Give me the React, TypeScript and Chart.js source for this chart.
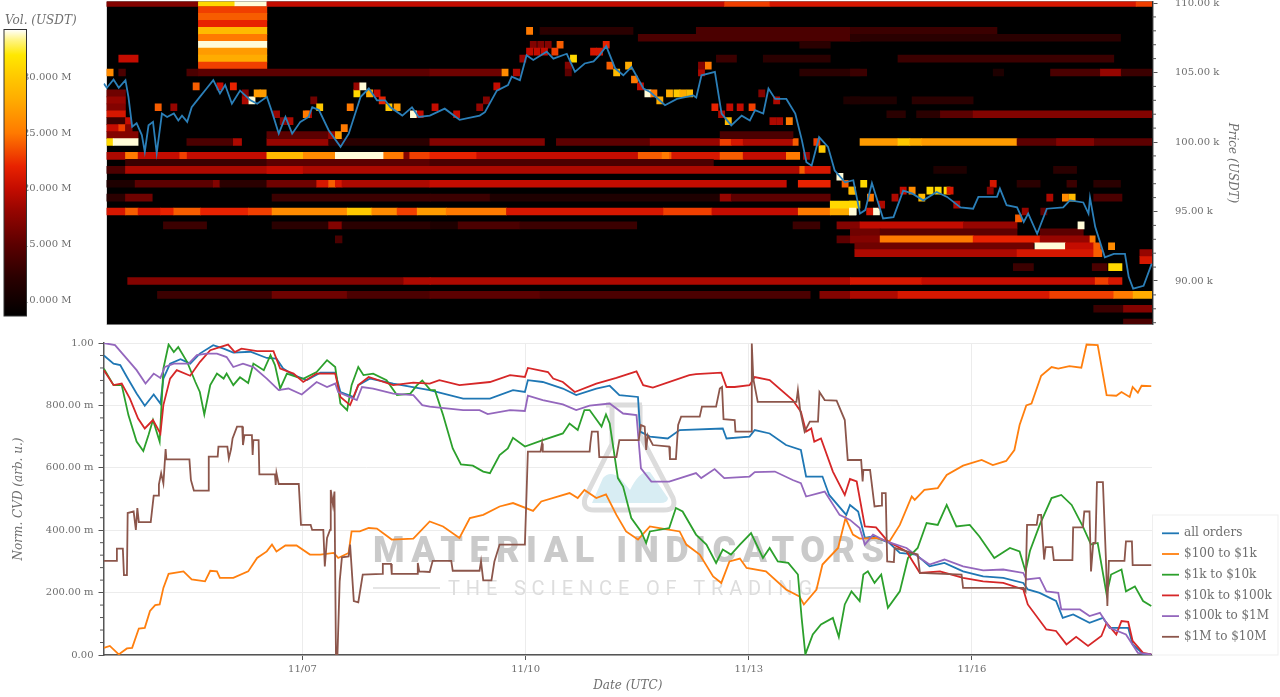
import React, { useEffect, useRef } from "react";
import { Chart, registerables } from "chart.js";

Chart.register(...registerables);

const FONT = "'DejaVu Serif', serif";
const TEXT = "#6e6e6e";
const AXIS = "#555555";

type P = [number, number];

const dayTicks = [7, 10, 13, 16];
const cvdTicks = [0, 0.2, 0.4, 0.6, 0.8, 1];
const priceTicks = [90, 95, 100, 105, 110];
const volTicks = [10, 15, 20, 25, 30];
const legendNames = ["all orders", "$100 to $1k", "$1k to $10k", "$10k to $100k", "$100k to $1M", "$1M to $10M"];
const seriesColors = ["#1f77b4", "#ff7f0e", "#2ca02c", "#d62728", "#9467bd", "#8c564b"];

const volStops: [number, string][] = [
  [8.56, "#000000"], [12, "#2a0000"], [15, "#5c0000"], [18, "#960500"], [20, "#c40c00"], [22, "#e82200"],
  [25, "#ff7a00"], [28, "#ffac00"], [30, "#ffc800"], [32, "#ffe800"], [33.4, "#fff58a"], [34.3, "#ffffff"],
];

const allOrders: P[] = [[4.33,.96],[4.46,.934],[4.55,.929],[4.64,.891],[4.77,.838],[4.88,.799],[5.0,.835],[5.09,.806],[5.13,.886],[5.22,.934],[5.36,.948],[5.49,.934],[5.62,.966],[5.8,.993],[5.94,.982],[6.07,.969],[6.3,.972],[6.52,.952],[6.65,.95],[6.74,.918],[6.88,.897],[7.06,.881],[7.24,.905],[7.44,.905],[7.51,.843],[7.69,.827],[7.75,.865],[7.91,.886],[8.22,.87],[8.71,.849],[9.16,.822],[9.52,.822],[9.83,.849],[9.99,.843],[10.03,.881],[10.23,.875],[10.5,.854],[10.68,.833],[10.95,.854],[11.13,.863],[11.26,.833],[11.51,.827],[11.54,.716],[11.67,.7],[11.91,.694],[12.07,.721],[12.65,.726],[12.7,.694],[13.01,.7],[13.08,.721],[13.28,.71],[13.5,.673],[13.7,.657],[13.77,.572],[13.99,.572],[14.08,.513],[14.31,.449],[14.36,.481],[14.47,.46],[14.56,.375],[14.67,.38],[14.89,.359],[15.03,.327],[15.25,.322],[15.43,.284],[15.63,.295],[15.88,.268],[16.15,.252],[16.42,.247],[16.69,.231],[16.75,.21],[16.91,.199],[17.13,.173],[17.22,.119],[17.36,.13],[17.58,.103],[17.76,.119],[17.85,.087],[18.1,.087],[18.16,.034],[18.3,.004],[18.41,.002]];

const orders100to1k: P[] = [[4.33,.023],[4.41,.029],[4.53,.002],[4.64,.021],[4.71,.023],[4.8,.085],[4.88,.087],[4.95,.141],[5.02,.16],[5.08,.162],[5.13,.215],[5.2,.26],[5.4,.268],[5.51,.242],[5.69,.236],[5.76,.27],[5.85,.268],[5.89,.247],[6.07,.247],[6.27,.268],[6.39,.311],[6.52,.332],[6.59,.354],[6.65,.332],[6.77,.351],[6.92,.351],[7.1,.322],[7.24,.322],[7.42,.327],[7.48,.311],[7.62,.327],[7.66,.396],[7.77,.396],[7.89,.407],[8.0,.405],[8.2,.37],[8.49,.373],[8.71,.428],[8.89,.412],[9.11,.375],[9.25,.439],[9.43,.449],[9.65,.476],[9.83,.487],[10.1,.462],[10.21,.492],[10.59,.519],[10.7,.503],[10.79,.529],[10.95,.503],[11.08,.515],[11.22,.449],[11.35,.396],[11.51,.37],[11.67,.412],[11.8,.407],[12.07,.396],[12.16,.354],[12.34,.322],[12.52,.252],[12.63,.231],[12.74,.3],[12.88,.309],[12.97,.279],[13.23,.268],[13.5,.21],[13.68,.188],[13.74,.162],[13.91,.21],[13.99,.29],[14.2,.343],[14.3,.439],[14.4,.386],[14.49,.373],[14.71,.375],[14.89,.364],[15.03,.417],[15.19,.508],[15.23,.497],[15.36,.529],[15.54,.535],[15.66,.577],[15.88,.607],[16.13,.625],[16.28,.609],[16.46,.622],[16.57,.657],[16.64,.737],[16.73,.8],[16.8,.806],[16.93,.895],[17.07,.923],[17.16,.918],[17.31,.926],[17.47,.921],[17.54,.995],[17.69,.993],[17.81,.833],[17.94,.831],[18.01,.843],[18.12,.827],[18.16,.859],[18.23,.841],[18.28,.863],[18.41,.862]];

const orders1kto10k: P[] = [[4.33,.918],[4.46,.865],[4.57,.865],[4.66,.769],[4.77,.684],[4.86,.654],[4.93,.705],[4.99,.753],[5.08,.684],[5.13,.918],[5.2,.995],[5.27,.971],[5.33,.987],[5.45,.939],[5.56,.875],[5.62,.843],[5.68,.771],[5.76,.865],[5.85,.902],[5.94,.886],[5.98,.902],[6.07,.865],[6.16,.89],[6.27,.872],[6.34,.934],[6.48,.913],[6.57,.961],[6.63,.929],[6.7,.854],[6.79,.902],[6.92,.891],[7.01,.885],[7.19,.907],[7.33,.945],[7.44,.923],[7.51,.806],[7.6,.785],[7.66,.865],[7.75,.923],[7.82,.897],[7.95,.902],[8.13,.881],[8.27,.833],[8.45,.838],[8.54,.865],[8.61,.88],[8.72,.849],[8.78,.849],[8.89,.769],[9.02,.662],[9.13,.611],[9.29,.607],[9.43,.588],[9.52,.583],[9.65,.641],[9.76,.662],[9.83,.696],[9.99,.668],[10.23,.689],[10.5,.71],[10.59,.742],[10.7,.721],[10.79,.785],[10.86,.785],[11.02,.732],[11.08,.771],[11.13,.742],[11.24,.567],[11.31,.54],[11.42,.439],[11.55,.396],[11.62,.359],[11.67,.396],[11.93,.407],[12.02,.471],[12.11,.46],[12.29,.386],[12.43,.354],[12.56,.295],[12.65,.338],[12.76,.322],[12.88,.354],[13.03,.391],[13.19,.311],[13.28,.343],[13.39,.3],[13.53,.295],[13.66,.258],[13.71,.119],[13.76,.002],[13.86,.066],[13.97,.098],[14.13,.119],[14.21,.058],[14.29,.162],[14.38,.204],[14.49,.173],[14.54,.258],[14.6,.268],[14.69,.231],[14.78,.258],[14.87,.151],[15.03,.204],[15.14,.311],[15.27,.343],[15.39,.423],[15.54,.417],[15.66,.481],[15.79,.412],[15.97,.417],[16.1,.38],[16.3,.311],[16.51,.343],[16.64,.332],[16.72,.268],[16.78,.334],[16.91,.417],[17.07,.503],[17.2,.513],[17.34,.481],[17.49,.412],[17.6,.354],[17.69,.359],[17.81,.194],[17.87,.258],[18.01,.274],[18.07,.204],[18.19,.22],[18.3,.173],[18.41,.157]];

const orders10kto100k: P[] = [[4.33,.913],[4.46,.865],[4.57,.87],[4.68,.822],[4.79,.758],[4.88,.726],[4.99,.753],[5.09,.71],[5.13,.801],[5.22,.886],[5.31,.913],[5.49,.895],[5.62,.939],[5.76,.977],[5.89,.987],[6.0,.995],[6.09,.971],[6.18,.982],[6.39,.974],[6.61,.974],[6.7,.918],[6.88,.902],[7.01,.875],[7.19,.902],[7.44,.902],[7.51,.827],[7.64,.801],[7.75,.865],[7.89,.891],[8.22,.865],[8.49,.873],[8.71,.87],[8.84,.881],[9.11,.865],[9.52,.875],[9.79,.897],[9.99,.891],[10.03,.92],[10.3,.907],[10.37,.886],[10.5,.875],[10.66,.843],[10.95,.87],[11.22,.888],[11.49,.909],[11.58,.865],[11.71,.857],[12.2,.897],[12.29,.9],[12.63,.905],[12.7,.859],[12.81,.859],[13.01,.865],[13.08,.891],[13.28,.881],[13.59,.817],[13.7,.78],[13.77,.716],[13.84,.726],[13.88,.684],[13.97,.694],[14.13,.588],[14.29,.513],[14.36,.564],[14.45,.556],[14.56,.412],[14.71,.409],[14.87,.364],[15.12,.332],[15.3,.263],[15.57,.268],[15.88,.247],[16.15,.236],[16.42,.231],[16.69,.21],[16.75,.162],[17.0,.082],[17.13,.077],[17.27,.034],[17.4,.058],[17.56,.029],[17.74,.061],[17.81,.103],[17.94,.066],[18.01,.109],[18.1,.106],[18.16,.045],[18.3,.007],[18.41,.002]];

const orders100kto1M: P[] = [[4.33,1.0],[4.48,.993],[4.62,.955],[4.77,.913],[4.89,.87],[5.0,.902],[5.09,.888],[5.15,.923],[5.27,.934],[5.47,.934],[5.58,.961],[5.71,.966],[5.85,.966],[5.98,.955],[6.07,.923],[6.2,.934],[6.34,.923],[6.52,.886],[6.68,.849],[6.81,.854],[6.99,.835],[7.19,.875],[7.33,.859],[7.44,.87],[7.48,.843],[7.73,.817],[7.8,.859],[7.95,.854],[8.22,.838],[8.49,.833],[8.61,.801],[8.71,.796],[9.16,.785],[9.38,.785],[9.49,.772],[9.79,.785],[9.99,.782],[10.03,.831],[10.23,.817],[10.5,.803],[10.68,.785],[10.86,.799],[11.13,.806],[11.31,.774],[11.49,.769],[11.55,.598],[11.69,.556],[11.93,.556],[12.29,.583],[12.36,.567],[12.54,.596],[12.67,.567],[13.01,.572],[13.08,.586],[13.35,.588],[13.59,.561],[13.7,.551],[13.77,.508],[14.02,.524],[14.22,.449],[14.36,.433],[14.49,.407],[14.56,.354],[14.67,.386],[14.85,.364],[15.12,.343],[15.3,.311],[15.43,.29],[15.63,.306],[15.88,.284],[16.15,.271],[16.42,.274],[16.69,.263],[16.73,.242],[16.91,.247],[17.0,.204],[17.16,.199],[17.2,.146],[17.45,.146],[17.58,.125],[17.72,.135],[17.85,.087],[18.07,.066],[18.23,.007],[18.41,.002]];

const orders1Mto10M: P[] = [[4.33,.302],[4.5,.302],[4.505,.341],[4.585,.341],[4.6,.256],[4.64,.256],[4.65,.455],[4.73,.46],[4.76,.401],[4.78,.471],[4.8,.426],[4.96,.426],[5.0,.511],[5.06,.511],[5.07,.547],[5.1,.583],[5.13,.55],[5.14,.585],[5.16,.66],[5.17,.627],[5.48,.627],[5.5,.561],[5.54,.527],[5.73,.527],[5.74,.636],[5.86,.636],[5.87,.668],[5.99,.668],[6.01,.63],[6.04,.66],[6.06,.694],[6.12,.732],[6.19,.732],[6.2,.673],[6.22,.705],[6.32,.705],[6.33,.641],[6.34,.689],[6.41,.689],[6.42,.579],[6.63,.579],[6.64,.545],[6.65,.583],[6.68,.548],[6.95,.548],[6.98,.417],[7.11,.417],[7.13,.401],[7.28,.401],[7.3,.284],[7.33,.375],[7.37,.401],[7.38,.529],[7.41,.481],[7.43,.524],[7.45,0],[7.47,0],[7.5,.236],[7.53,.313],[7.62,.316],[7.64,.354],[7.69,.173],[7.75,.169],[7.81,.258],[8.07,.26],[8.08,.292],[8.19,.292],[8.2,.26],[8.54,.26],[8.55,.295],[8.57,.268],[8.71,.266],[8.75,.302],[9.0,.302],[9.02,.27],[9.38,.27],[9.4,.3],[9.43,.239],[9.54,.239],[9.58,.3],[9.65,.354],[9.99,.354],[10.03,.652],[10.2,.652],[10.22,.678],[10.23,.652],[10.86,.652],[10.87,.678],[10.89,.716],[10.97,.716],[10.99,.634],[11.22,.634],[11.26,.689],[11.52,.689],[11.55,.737],[11.6,.732],[11.62,.657],[11.64,.705],[11.71,.673],[11.93,.668],[11.94,.628],[12.02,.628],[12.05,.737],[12.09,.764],[12.34,.764],[12.37,.796],[12.56,.796],[12.61,.854],[12.64,.859],[12.66,.756],[12.81,.753],[12.82,.716],[13.03,.716],[13.04,.998],[13.06,.886],[13.12,.811],[13.64,.811],[13.66,.849],[13.69,.785],[13.75,.716],[13.82,.748],[13.93,.748],[13.95,.843],[14.02,.817],[14.18,.815],[14.29,.753],[14.33,.625],[14.51,.625],[14.53,.556],[14.54,.593],[14.63,.593],[14.66,.535],[14.69,.476],[14.78,.479],[14.79,.519],[14.84,.519],[14.86,.3],[14.95,.298],[14.96,.343],[15.27,.322],[15.3,.263],[15.86,.258],[15.88,.215],[16.69,.215],[16.72,.204],[16.74,.417],[16.87,.417],[16.89,.449],[16.93,.449],[16.97,.306],[16.99,.346],[17.08,.346],[17.1,.304],[17.35,.304],[17.36,.409],[17.49,.409],[17.51,.46],[17.58,.46],[17.6,.268],[17.63,.359],[17.66,.359],[17.68,.554],[17.76,.554],[17.8,.311],[17.82,.157],[17.84,.302],[18.05,.302],[18.07,.364],[18.15,.364],[18.16,.288],[18.41,.288]];

const priceSeries: P[] = [[4.33,104.2],[4.37,103.9],[4.46,104.5],[4.53,103.9],[4.62,104.45],[4.66,103.25],[4.71,101.1],[4.77,101.35],[4.84,100.5],[4.88,99.3],[4.93,101.2],[4.99,101.45],[5.04,99.2],[5.11,102.05],[5.18,101.8],[5.27,102.05],[5.33,101.55],[5.38,101.9],[5.45,101.45],[5.51,102.5],[5.62,103.25],[5.71,103.85],[5.8,104.45],[5.89,103.5],[5.96,104.1],[6.05,102.75],[6.16,103.7],[6.3,103],[6.39,102.75],[6.52,103.25],[6.59,102.15],[6.68,100.6],[6.77,101.8],[6.86,100.6],[6.97,101.45],[7.08,101.8],[7.13,102.5],[7.22,102.3],[7.35,100.85],[7.51,99.65],[7.62,100.6],[7.78,103.25],[7.89,103.85],[8.0,103],[8.11,103],[8.18,102.5],[8.34,101.9],[8.47,102.5],[8.56,101.8],[8.71,101.9],[8.91,102.4],[9.11,101.6],[9.38,101.9],[9.45,102.15],[9.61,103.7],[9.76,104.1],[9.81,104.7],[9.92,104.45],[10.01,106.25],[10.1,105.9],[10.28,106.5],[10.37,106],[10.55,106.35],[10.66,105.05],[10.79,105.65],[10.91,105.8],[10.99,106.25],[11.08,106.9],[11.2,105.3],[11.31,104.8],[11.42,105.4],[11.58,103.85],[11.67,103.6],[11.87,102.65],[12.03,103.1],[12.25,103.35],[12.29,103.2],[12.36,104.8],[12.54,105.05],[12.63,102.05],[12.76,101.2],[12.9,101.9],[13.01,101.55],[13.08,102.3],[13.19,102.05],[13.26,103.85],[13.35,103.1],[13.5,103.1],[13.62,102.05],[13.71,100.1],[13.77,98.55],[13.84,98.3],[13.94,100.35],[14.06,99.65],[14.15,97.95],[14.29,97.1],[14.4,97.25],[14.49,94.85],[14.56,95.1],[14.65,97.05],[14.8,94.5],[14.94,94.6],[15.07,96.5],[15.19,96.3],[15.34,95.8],[15.52,96.4],[15.66,96.05],[15.84,95.3],[16.01,95.2],[16.08,96.05],[16.33,96.05],[16.37,96.65],[16.46,95.45],[16.6,95.3],[16.69,94.25],[16.75,94.85],[16.87,93.4],[17,95.2],[17.22,95.3],[17.31,95.8],[17.49,95.65],[17.56,94.85],[17.58,96],[17.65,93.9],[17.78,91.7],[17.9,91.95],[18.05,91.95],[18.1,90.3],[18.16,89.45],[18.3,89.65],[18.41,91.25]];

// [price k, start day, end day, volume M]
const heatBands: [number, number, number, number][] = [
  [110,4.37,5.6,17],[110,5.6,6.09,31],[110,6.09,6.52,34],[110,6.52,12.67,20],[110,12.67,13.28,23],[110,13.28,18.2,21],[110,18.2,18.41,23],
  [109.5,5.6,6.52,23],[109,5.6,6.52,24],[108.5,5.6,6.52,22],[108,5.6,6.52,29],[107.5,5.6,6.52,25],[107,5.6,6.52,34],[106.5,5.6,6.52,27],[106,5.6,6.52,28],[105.5,5.6,6.52,23],
  [106,4.53,4.79,20],[106,12.56,12.83,13],[106,13.19,14.09,12],[106,15,17.9,13],
  [105,4.37,4.455,26],[105,4.53,4.62,14],[105,5.445,5.6,14],[105,5.6,8.71,15],[105,8.71,9.67,16],[105,9.83,9.92,19],[105,13.68,14.49,12],[105,14.36,14.58,13],[105,16.28,16.42,11],[105,17.05,17.72,14],[105,17.72,18,18],[105,18,18.41,13],
  [108,10.19,11.44,12],[108,12.29,14.49,14],[108,14.36,16.33,13],[107.5,11.51,14.49,14],[107.5,14.36,17.99,12],[107,13.68,14.09,12],
  [103,14.36,14.98,11],[103,15.19,16.01,12],[103,14.27,14.49,11],
  [102,14.85,15.1,12],[102,15.25,15.57,12],[102,15.57,16.01,15],[102,16.01,18.41,17],
  [103.5,4.37,4.62,16],[103,4.37,4.62,18],[102.5,4.37,4.62,17],[102,4.37,4.62,21],[101.5,4.37,4.62,13],[101.5,4.62,4.69,20],[101,4.37,4.53,20],[101,4.53,4.62,23],[101,4.62,4.71,17],[100.5,4.37,4.79,17],
  [100,4.37,4.455,31],[100,4.455,4.79,34],[100,5.445,6.07,14],[100,6.07,6.18,19],[100,6.52,7.35,18],[100,7.35,8.71,12],[100,8.71,10.25,17],[100,10.41,11.67,15],[100,11.67,12.61,18],[100,12.61,12.76,23],[100,12.76,12.92,21],[100,12.92,13.59,19],[100,13.59,13.66,24],
  [100,14.49,15,27],[100,15,15.16,30],[100,15.16,15.32,28],[100,15.32,16.6,27],[100,16.6,18.41,15],[100,17.13,17.63,17],
  [100.5,6.52,7.35,15],[100.5,12.61,13.59,14],
  [99,4.37,4.62,19],[99,4.62,4.79,25],[99,4.79,6.52,20],[99,5.35,5.44,23],[99,6.52,7.01,29],[99,7.01,7.44,26],[99,7.44,8.09,34],[99,8.09,8.36,25],[99,8.36,8.44,17],[99,8.44,8.71,23],[99,8.71,9.34,22],[99,9.34,11.51,20],[99,11.51,11.96,24],[99,11.83,11.92,25],[99,11.96,12.61,21],[99,12.61,12.92,24],[99,12.92,13.5,20],[99,13.5,13.68,25],
  [98.5,4.62,6.52,13],[98.5,6.52,8.71,15],[98.5,8.71,12.52,14],
  [98,4.37,4.62,14],[98,4.62,13.68,19],[98,6.52,7,20],[98,13.68,13.75,24],[98,13.75,14.09,21],[98,15.48,15.92,11],[98,17.09,17.4,12],
  [97,4.37,4.75,11],[97,4.75,5.8,15],[97,5.8,5.89,17],[97,5.89,6.52,12],[97,6.52,7.19,16],[97,7.19,7.35,21],[97,7.35,7.44,24],[97,7.44,7.53,21],[97,7.53,8.71,19],[97,8.71,13.5,20],[97,13.66,14.09,22],[97,16.6,16.91,12],[97,17.27,17.4,13],[97,17.63,17.99,12],
  [96,4.37,4.62,12],[96,4.62,4.98,16],[96,6.59,8.72,13],[96,8.71,9.52,13],[96,9.52,12.61,11],[96,12.61,12.76,18],[96,12.76,14.09,15],[96,17.63,18.01,14],
  [95,4.37,4.62,21],[95,4.62,4.79,24],[95,4.79,5.09,21],[95,5.09,5.27,22],[95,5.27,5.63,24],[95,5.63,6.27,22],[95,6.27,6.59,23],[95,6.59,7.6,26],[95,7.6,7.93,30],[95,7.93,8.27,26],[95,8.27,8.54,23],[95,8.54,8.93,27],[95,8.93,9.74,25],[95,9.74,11.85,21],[95,11.85,12.5,23],[95,12.5,13.66,20],[95,13.66,14.09,25],[95,14.09,14.35,28],[95,14.35,14.44,34],
  [95.5,14.09,14.49,31],
  [94,5.13,5.71,13],[94,6.59,7.35,12],[94,7.35,7.53,17],[94,7.53,8.72,12],[94,8.72,9.09,11],[94,9.09,9.92,14],[94,9.92,11.49,13],[94,13.59,13.95,13],[94,14.18,14.49,17],[94,14.49,15.88,20],[94,15.88,16.6,18],
  [93.5,14.36,14.76,16],[93.5,14.76,16.6,15],[93.5,16.91,17.49,15],
  [93,7.44,7.53,14],[93,14.18,14.49,15],[93,14.36,14.76,17],[93,14.76,16.01,25],[93,16.01,16.91,22],[93,16.91,17.58,18],[93,17.58,17.65,25],
  [92.5,14.42,16.82,16],[92.5,16.84,17.25,34],[92.5,17.25,17.63,20],[92.5,17.63,17.72,24],
  [92,14.42,16.6,19],[92,16.6,17.63,21],[92,17.63,17.74,24],[92,18.25,18.41,18],[91.5,18.25,18.41,21],
  [91,16.55,16.82,13],[91,17.61,17.81,14],[91,17.83,18.01,31],
  [90,4.65,8.36,17],[90,8.36,8.72,19],[90,8.71,14.36,19],[90,14.36,15.32,21],[90,15.32,17.65,20],[90,17.65,17.83,23],[90,17.83,18.01,21],
  [89,5.05,6.59,13],[89,6.59,7.6,16],[89,7.6,8.72,14],[89,8.71,10.19,15],[89,10.19,13.82,14],[89,13.95,14.36,17],[89,14.36,15,19],[89,15,17.04,21],[89,17.04,17.9,23],[89,17.9,18.16,25],[89,18.16,18.41,28],
  [88,17.63,18.03,13],[88,18.03,18.41,17],[87,18.03,18.41,14],
];

// [price k, centre day, volume M]
const heatCells: [number, number, number][] = [
  [102.5,5.06,24],[102.5,5.27,18],[104,5.57,24],[104,5.89,20],[104,6.07,22],[103.5,6.23,17],[103,6.23,19],[103,6.32,34],[103.5,6.39,27],[103.5,6.47,27],[102,7.08,19],[103,7.15,16],[102.5,7.23,30],[102,7.05,25],[102.5,7.64,25],[103.5,7.73,31],[104,7.73,18],[104,7.81,34],[103.5,7.9,28],[103.5,8,20],[103,8.07,22],[102.5,8.16,30],[102.5,8.27,27],[102,8.49,34],[100.5,7.48,27],[101,7.56,25],[100.5,7.39,18],[101.5,6.83,19],[101.5,6.74,17],[102,6.65,18],[102,8.58,20],
  [108,10.05,25],[107,10.1,17],[107,10.2,17],[107,10.3,17],[107,10.46,24],[106.5,10.05,20],[106.5,10.15,20],[106.5,10.25,20],[106.5,10.39,23],[107,11.08,22],[106.5,10.99,21],[106.5,10.91,21],[106,10.64,31],[105.5,10.57,17],[105,10.57,15],[106,9.96,18],[105,9.72,26],[104,9.61,20],[105.5,11.13,24],[105,11.22,29],[105.5,11.38,28],[104.5,11.46,25],[104,11.54,20],[103.5,11.64,34],[103.5,11.72,25],[103,11.8,28],[103.5,11.93,28],[103.5,12.03,30],[103.5,12.11,28],[103.5,12.2,29],[105.5,12.45,25],[105,12.36,19],[105.5,12.36,17],[102.5,12.54,22],[102.5,12.74,20],[102.5,12.88,20],[102.5,13.04,23],[102,12.63,19],[101.5,12.72,29],[101.5,13.32,19],[101.5,13.41,19],[101.5,13.54,25],[103.5,13.17,17],[103,13.37,19],[99.5,13.98,30],[100,13.91,23],[99,13.77,18],[97.5,14.22,34],[97,14.29,24],[96.5,14.38,29],[102.5,9.38,18],[102.5,8.78,20],[102,9.07,20],[103,9.47,17],
  [97,14.54,31],[96.5,14.39,29],[95.5,14.39,31],[95,14.39,34],[96,14.63,25],[95,14.71,34],[95,14.62,21],[95.5,14.78,19],[96,14.96,19],[96.5,15.07,20],[96.5,15.19,26],[96,15.32,29],[96.5,15.43,31],[96.5,15.54,31],[96.5,15.66,31],[96.5,15.7,21],[95.5,15.79,19],[97,16.28,21],[96.5,16.24,17],[94.5,16.62,24],[95,16.71,18],[96,17.04,19],[96,17.25,26],[96,17.34,29],[94,17.46,34],[92.5,17.87,26],[95,16.96,15],
];

const heatCellHalfWidth = 0.0417;
const heatStart = 4.37;

function hexRgb(c: string) {
  return [parseInt(c.slice(1, 3), 16), parseInt(c.slice(3, 5), 16), parseInt(c.slice(5, 7), 16)];
}
function volumeColor(v: number) {
  for (let i = 1; i < volStops.length; i++) {
    if (v <= volStops[i][0]) {
      const [a, ca] = volStops[i - 1];
      const [b, cb] = volStops[i];
      const t = Math.max(0, (v - a) / (b - a));
      const p = hexRgb(ca);
      const q = hexRgb(cb);
      return `rgb(${p.map((x, k) => Math.round(x + (q[k] - x) * t)).join(",")})`;
    }
  }
  return "#ffffff";
}

const toXY = (s: P[]) => s.map(([x, y]) => ({ x, y }));

function useChart(build: (c: HTMLCanvasElement) => Chart) {
  const ref = useRef<HTMLCanvasElement | null>(null);
  useEffect(() => {
    const chart = build(ref.current as HTMLCanvasElement);
    return () => chart.destroy();
  }, []);
  return ref;
}

function minorTicks(ctx: any, x0: number, x1: number, ys: number[]) {
  ctx.save();
  ctx.strokeStyle = AXIS;
  ctx.lineWidth = 1;
  ys.forEach((y) => {
    ctx.beginPath();
    ctx.moveTo(x0, y);
    ctx.lineTo(x1, y);
    ctx.stroke();
  });
  ctx.restore();
}

function buildHeat(canvas: HTMLCanvasElement) {
  const bars = [
    ...heatBands.map(([p, a, b, v]) => ({ x: [a, b], y: p, v })),
    ...heatCells.map(([p, c, v]) => ({ x: [c - heatCellHalfWidth, c + heatCellHalfWidth], y: p, v })),
  ];
  return new Chart(canvas, {
    type: "line",
    data: {
      datasets: [
        {
          type: "line", label: "Price", data: toXY(priceSeries), borderColor: "#2b7fb8", borderWidth: 1.8,
          pointRadius: 0, tension: 0, order: 1, parsing: false, normalized: true,
        },
        {
          type: "bar", label: "Vol.", indexAxis: "y", data: bars, backgroundColor: bars.map((b) => volumeColor(b.v)),
          barThickness: 7, grouped: false, order: 2, borderWidth: 0,
        },
      ] as any,
    },
    options: {
      responsive: false, animation: false, events: [],
      layout: { padding: { left: 103.5, top: 1.5, bottom: 5.5, right: 0 } },
      plugins: { legend: { display: false }, tooltip: { enabled: false } },
      scales: {
        x: { type: "linear", min: 4.325, max: 18.42, display: false, offset: false },
        y: {
          type: "linear", position: "right", min: 86.87, max: 110.11, offset: false,
          afterFit: (s: any) => { s.width = 127.5; s.paddingTop = 0; s.paddingBottom = 0; },
          afterBuildTicks: (s: any) => { s.ticks = priceTicks.map((value) => ({ value })); },
          grid: { drawOnChartArea: false, offset: false, tickLength: 5, tickColor: AXIS },
          border: { color: AXIS, width: 1.5 },
          ticks: {
            autoSkip: false, padding: 17.5, color: TEXT, font: { family: FONT, size: 10 },
            callback: (v: any) => `${Number(v).toFixed(2)} k`,
          },
          title: {
            display: true, text: "Price (USDT)", color: TEXT,
            font: { family: FONT, size: 12, style: "italic" }, padding: { top: 41, bottom: 0 },
          },
        },
      },
    },
    plugins: [
      {
        id: "heatFloor",
        beforeDatasetsDraw(chart: any) {
          const { ctx, chartArea: a, scales } = chart;
          ctx.save();
          ctx.fillStyle = "#000";
          const x0 = scales.x.getPixelForValue(heatStart);
          ctx.fillRect(x0, a.top, a.right - x0, a.bottom - a.top);
          ctx.restore();
        },
        afterDraw(chart: any) {
          const { ctx, chartArea: a, scales } = chart;
          ctx.save();
          ctx.strokeStyle = "#777";
          ctx.lineWidth = 1;
          ctx.beginPath();
          ctx.moveTo(scales.x.getPixelForValue(heatStart), a.bottom);
          ctx.lineTo(a.right, a.bottom);
          ctx.stroke();
          ctx.restore();
          const ys: number[] = [];
          for (let p = 87; p < 110; p++) if (p % 5) ys.push(scales.y.getPixelForValue(p));
          minorTicks(ctx, a.right, a.right + 3.5, ys);
        },
      },
    ] as any,
  } as any);
}

function buildColorbar(canvas: HTMLCanvasElement) {
  return new Chart(canvas, {
    type: "bar",
    data: {
      labels: ["Vol."],
      datasets: [
        {
          data: [[8.56, 34.29]],
          barPercentage: 1, categoryPercentage: 1, borderWidth: 0,
          backgroundColor: (c: any) => {
            const a = c.chart.chartArea;
            if (!a) return "#000";
            const scale = c.chart.scales.y;
            const g = c.chart.ctx.createLinearGradient(0, scale.getPixelForValue(8.56), 0, scale.getPixelForValue(34.29));
            volStops.forEach(([v, col]) => g.addColorStop(Math.min(1, (v - 8.56) / (34.29 - 8.56)), col));
            return g;
          },
        },
      ] as any,
    },
    options: {
      responsive: false, animation: false, events: [],
      layout: { padding: { left: 4, right: 76.5, top: 29.5, bottom: 14 } },
      plugins: { legend: { display: false }, tooltip: { enabled: false } },
      scales: {
        x: { display: false },
        y: {
          type: "linear", min: 8.56, max: 34.29, position: "left", z: 2,
          afterFit: (s: any) => { s.width = 0; s.paddingTop = 0; s.paddingBottom = 0; },
          afterBuildTicks: (s: any) => { s.ticks = volTicks.map((value) => ({ value })); },
          grid: { display: false, drawTicks: false },
          border: { display: false },
          ticks: {
            mirror: true, padding: 19, color: TEXT, font: { family: FONT, size: 10 }, autoSkip: false,
            callback: (v: any) => `${Number(v).toFixed(3)} M`,
          },
        },
      },
    },
    plugins: [
      {
        id: "colorbarFrame",
        afterDraw(chart: any) {
          const { ctx, chartArea: a } = chart;
          ctx.save();
          ctx.strokeStyle = "#333";
          ctx.lineWidth = 1;
          ctx.strokeRect(a.left, a.top, a.right - a.left, a.bottom - a.top);
          ctx.fillStyle = TEXT;
          ctx.font = `italic 12px ${FONT}`;
          ctx.textBaseline = "middle";
          ctx.fillText("Vol. (USDT)", 5, 20.5);
          ctx.restore();
        },
      },
    ] as any,
  } as any);
}

function spacedText(ctx: any, text: string, left: number, right: number, y: number) {
  ctx.letterSpacing = "0px";
  const w = ctx.measureText(text).width;
  ctx.letterSpacing = `${(right - left - w) / (text.length - 1)}px`;
  ctx.fillText(text, left, y);
  ctx.letterSpacing = "0px";
}

function drawWatermark(ctx: any, top: number) {
  const oy = -top;
  ctx.save();
  ctx.translate(0, oy);
  // flask logo
  ctx.fillStyle = "#d8edf3";
  ctx.beginPath();
  ctx.moveTo(592, 503);
  ctx.lineTo(603, 478);
  ctx.quadraticCurveTo(610, 470, 620, 478);
  ctx.lineTo(630, 490);
  ctx.quadraticCurveTo(640, 470, 650, 472);
  ctx.lineTo(668, 498);
  ctx.quadraticCurveTo(668, 503, 660, 503);
  ctx.closePath();
  ctx.fill();
  ctx.strokeStyle = "#dcdcdc";
  ctx.lineWidth = 5;
  ctx.lineJoin = "round";
  ctx.beginPath();
  ctx.moveTo(612, 405);
  ctx.lineTo(612, 444);
  ctx.lineTo(585, 498);
  ctx.quadraticCurveTo(582, 510, 594, 510);
  ctx.lineTo(664, 510);
  ctx.quadraticCurveTo(677, 510, 673, 498);
  ctx.lineTo(640, 435);
  ctx.lineTo(640, 405);
  ctx.stroke();
  ctx.beginPath();
  ctx.moveTo(606, 405);
  ctx.lineTo(642, 405);
  ctx.stroke();
  // wordmark
  ctx.textBaseline = "alphabetic";
  ctx.fillStyle = "#cacaca";
  ctx.font = "900 36px Roboto, sans-serif";
  spacedText(ctx, "MATERIAL INDICATORS", 373, 884, 562);
  ctx.fillStyle = "#dddddd";
  ctx.font = "20px Roboto, sans-serif";
  spacedText(ctx, "THE SCIENCE OF TRADING", 448, 812, 595);
  ctx.strokeStyle = "#dddddd";
  ctx.lineWidth = 1.5;
  ctx.beginPath();
  ctx.moveTo(373, 588);
  ctx.lineTo(440, 588);
  ctx.moveTo(815, 588);
  ctx.lineTo(880, 588);
  ctx.stroke();
  ctx.restore();
}

const CVD_TOP = 330;

function buildCvd(canvas: HTMLCanvasElement) {
  const lines = [allOrders, orders100to1k, orders1kto10k, orders10kto100k, orders100kto1M, orders1Mto10M];
  return new Chart(canvas, {
    type: "line",
    data: {
      datasets: lines.map((s, i) => ({
        label: legendNames[i], data: toXY(s), borderColor: seriesColors[i], borderWidth: 1.8,
        pointRadius: 0, tension: 0, order: lines.length - i, parsing: false, normalized: true,
      })),
    },
    options: {
      responsive: false, animation: false, events: [],
      layout: { padding: { left: 0, right: 128, top: 13, bottom: 0 } },
      plugins: { legend: { display: false }, tooltip: { enabled: false } },
      scales: {
        x: {
          type: "linear", min: 4.325, max: 18.42,
          afterFit: (s: any) => { s.height = 42; s.paddingLeft = 0; s.paddingRight = 0; },
          afterBuildTicks: (s: any) => { s.ticks = dayTicks.map((value) => ({ value })); },
          grid: { color: "#ececec", tickColor: AXIS, tickLength: 5 },
          border: { color: AXIS, width: 1.5 },
          ticks: {
            autoSkip: false, maxRotation: 0, padding: 3, color: TEXT, font: { family: FONT, size: 10 },
            callback: (v: any) => `11/${String(v).padStart(2, "0")}`,
          },
          title: {
            display: true, text: "Date (UTC)", color: TEXT,
            font: { family: FONT, size: 12, style: "italic" }, padding: { top: 0, bottom: 3.8 },
          },
        },
        y: {
          type: "linear", min: 0, max: 1,
          afterFit: (s: any) => { s.width = 103.5; s.paddingTop = 0; s.paddingBottom = 0; },
          afterBuildTicks: (s: any) => { s.ticks = cvdTicks.map((value) => ({ value })); },
          grid: { color: "#ececec", tickColor: AXIS, tickLength: 5 },
          border: { color: AXIS, width: 1.5 },
          ticks: {
            autoSkip: false, padding: 5, color: TEXT, font: { family: FONT, size: 10 },
            callback: (v: any) => {
              const n = Number(v);
              return n === 0 || n === 1 ? n.toFixed(2) : `${(n * 1000).toFixed(2)} m`;
            },
          },
          title: {
            display: true, text: "Norm. CVD (arb. u.)", color: TEXT,
            font: { family: FONT, size: 12, style: "italic" }, padding: { top: 12, bottom: 0 },
          },
        },
      },
    },
    plugins: [
      {
        id: "watermark",
        beforeDatasetsDraw(chart: any) {
          drawWatermark(chart.ctx, CVD_TOP);
        },
        afterDraw(chart: any) {
          const { ctx, chartArea: a, scales, data } = chart;
          const ys: number[] = [];
          for (let i = 1; i < 25; i++) if (i % 5) ys.push(scales.y.getPixelForValue(i * 0.04));
          minorTicks(ctx, a.left - 3.5, a.left, ys);
          // legend
          const bx = 1152.5, by = 515 - CVD_TOP;
          ctx.save();
          ctx.fillStyle = "#fff";
          ctx.strokeStyle = "#efefef";
          ctx.lineWidth = 1;
          ctx.fillRect(bx, by, 125.5, 140);
          ctx.strokeRect(bx, by, 125.5, 140);
          ctx.textBaseline = "middle";
          ctx.font = `12px ${FONT}`;
          data.datasets.forEach((d: any, i: number) => {
            const y = by + 18.3 + i * 20.7;
            ctx.strokeStyle = d.borderColor;
            ctx.lineWidth = 1.8;
            ctx.beginPath();
            ctx.moveTo(1162, y);
            ctx.lineTo(1179, y);
            ctx.stroke();
            ctx.fillStyle = TEXT;
            ctx.fillText(d.label, 1184, y);
          });
          ctx.restore();
        },
      },
    ] as any,
  } as any);
}

const canvasStyle = (left: number, top: number): React.CSSProperties => ({
  position: "absolute", left, top, filter: "blur(0.45px)",
});

export default function App() {
  const heat = useChart(buildHeat);
  const bar = useChart(buildColorbar);
  const cvd = useChart(buildCvd);
  return (
    <div style={{ position: "fixed", left: 0, top: 0, width: 1280, height: 697, background: "#fff", overflow: "hidden" }}>
      <canvas ref={heat} width={1280} height={330} style={canvasStyle(0, 0)} />
      <canvas ref={bar} width={103} height={330} style={canvasStyle(0, 0)} />
      <canvas ref={cvd} width={1280} height={367} style={canvasStyle(0, CVD_TOP)} />
    </div>
  );
}
